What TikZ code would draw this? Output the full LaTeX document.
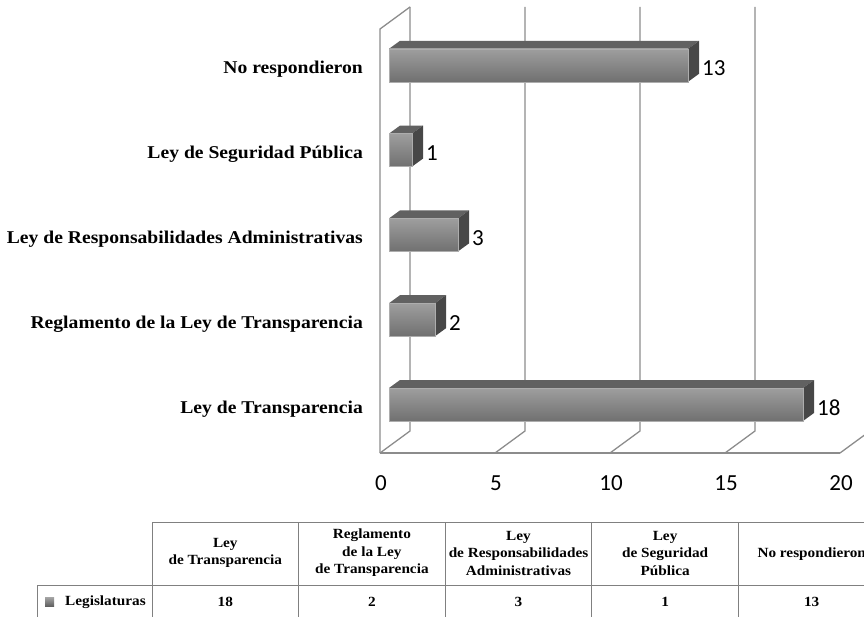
\documentclass[tikz,border=0pt]{standalone}
\usepackage{fontspec}
\setmainfont{Liberation Serif}[FakeStretch=1.09]
\newfontfamily\axisfont{Carlito}
\usetikzlibrary{positioning, calc}
\tikzset{
    catlabel/.style={anchor=base east, font=\bfseries\fontsize{18}{20}\selectfont, inner sep=0pt},
    vallabel/.style={anchor=west, font=\axisfont\fontsize{23}{26}\selectfont, inner sep=0pt},
    ticklabel/.style={font=\axisfont\fontsize{23}{26}\selectfont, inner sep=0pt},
    gridline/.style={draw=black!45, line width=1.3pt},
    barfront/.style={top color=black!38, bottom color=black!56, draw=black!32, line width=0.5pt},
    bartop/.style={fill=black!62},
    barside/.style={fill=black!72},
    cell/.style={font=\bfseries\fontsize{14}{17.5}\selectfont, align=center, inner sep=0pt},
    tabline/.style={draw=black!50, line width=1pt}
}

\begin{document}
\begin{tikzpicture}[x=1pt, y=-1pt]
        \path[use as bounding box] (0,0) rectangle (864,617);
        \clip (0,0) rectangle (864,617);
        % walls and grid
        \draw[gridline] (380,453) -- (380,29) -- (410,7);
        \foreach \v in {0,5,...,20} {
            \draw[gridline] (410+23*\v,7) -- (410+23*\v,431) -- (380+23*\v,453);
            \node[ticklabel] (tick\v) at (381+23*\v,483) {\v};
        }
        \draw[gridline] (380,453) -- (840,453);
        % bars
        \foreach \v/\cy/\nm/\txt in {18/404.5/transp/Ley de Transparencia,
                2/319.7/regl/Reglamento de la Ley de Transparencia,
                3/234.9/resp/Ley de Responsabilidades Administrativas,
                1/150.1/segur/Ley de Seguridad Pública,
                13/65.3/norsp/No respondieron} {
            \path[bartop] (389,\cy-16.5) -- (400,\cy-24.5) -- (400+23*\v,\cy-24.5) -- (389+23*\v,\cy-16.5) -- cycle;
            \path[barside] (389+23*\v,\cy-16.5) -- (400+23*\v,\cy-24.5) -- (400+23*\v,\cy+8.5) -- (389+23*\v,\cy+16.5) -- cycle;
            \path[barfront] (389,\cy-16.5) rectangle (389+23*\v,\cy+16.5);
            \node[catlabel] (lbl\nm) at (363,\cy+8.5) {\txt};
            \node[vallabel] (val\nm) at (389+23*\v+14,\cy+3) {\v};
        }
        % table
        \draw[tabline] (152,617) -- (152,522) -- (864,522);
        \draw[tabline] (37,617) -- (37,585) -- (864,585);
        \foreach \x in {298.6,445.2,591.8,738.4}
            \draw[tabline] (\x,522) -- (\x,617);
        \node[cell] (hdtransp) at (225.3,553) {Ley\\de Transparencia};
        \node[cell] (hdregl) at (371.9,553) {Reglamento\\de la Ley\\de Transparencia};
        \node[cell] (hdresp) at (518.5,553) {Ley\\de Responsabilidades\\Administrativas};
        \node[cell] (hdsegur) at (665.1,553) {Ley\\de Seguridad\\Pública};
        \node[cell] (hdnorsp) at (811.7,554) {No respondieron};
        \path[top color=black!35, bottom color=black!62] (45,597) rectangle (54,606);
        \node[cell, anchor=west] (serie) at (65,602) {Legislaturas};
        \node[cell] (dttransp) at (225.3,602) {18};
        \node[cell] (dtregl) at (371.9,602) {2};
        \node[cell] (dtresp) at (518.5,602) {3};
        \node[cell] (dtsegur) at (665.1,602) {1};
        \node[cell] (dtnorsp) at (811.7,602) {13};
    \end{tikzpicture}
\end{document}
